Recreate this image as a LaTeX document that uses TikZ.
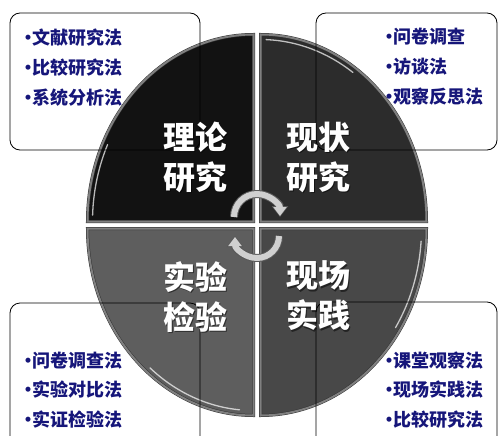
\documentclass[tikz,border=0pt]{standalone}
\usepackage{fontspec}
\setmainfont{Noto Sans CJK SC}
\usepackage{tikz}
\usetikzlibrary{arrows.meta,calc}
\definecolor{bleu}{RGB}{22,22,122}
\definecolor{qa}{RGB}{18,18,18}
\definecolor{qb}{RGB}{44,44,44}
\definecolor{qc}{RGB}{94,94,94}
\definecolor{qd}{RGB}{72,72,72}
\definecolor{bord}{RGB}{128,128,128}
\definecolor{fleche}{RGB}{208,208,208}
\newcommand\puce{\makebox[13pt][l]{•}}
\tikzset{
  cadre/.style={rounded corners=10pt,line width=0.8pt},
  methode/.style={anchor=west,inner sep=0pt,text=bleu,font=\fontsize{18}{18}\selectfont\bfseries},
  titre/.style={inner sep=0pt,align=center,text=white,font=\fontsize{32}{40}\selectfont\bfseries},
  ombre/.style={titre,text=black,opacity=0.5},
  quart/.style={draw=black!80,line width=0.5pt,double=bord,double distance=2pt},
  reflet/.style={draw=white,line width=1.3pt,opacity=0.7,line cap=round},
  tour/.style={line width=8pt,draw=black!65,-{Triangle[width=16pt,length=11pt]}},
  tourin/.style={line width=6pt,draw=fleche,shorten >=1pt,-{Triangle[width=13pt,length=9pt]}}
}
\begin{document}
\begin{tikzpicture}[x=1pt,y=-1pt]
\useasboundingbox(0,0)rectangle(498,436);
\foreach \dx/\dy/\a/\c in {-1/-1/180/qa,1/-1/270/qb,1/1/0/qd,-1/1/90/qc}
\draw[quart,fill=\c](257+3.5*\dx,225+3.5*\dy)--++({166*cos(\a)},{187*sin(\a)})
  arc[start angle=\a,delta angle=90,x radius=166,y radius=187]--cycle;
\foreach \dx/\dy/\a/\b in {-1/-1/182/205,1/-1/272/305,1/1/4/33,-1/1/95/130}
\draw[reflet]($(257+3.5*\dx,225+3.5*\dy)+({161*cos(\a)},{182*sin(\a)})$)
  arc[start angle=\a,end angle=\b,x radius=161,y radius=182];
\draw[tour](234,217)arc[start angle=180,end angle=360,radius=23];
\draw[tourin](234,217)arc[start angle=180,end angle=360,radius=23];
\draw[tour](279,236)arc[start angle=0,end angle=180,radius=22];
\draw[tourin](279,236)arc[start angle=0,end angle=180,radius=22];
\draw[cadre](10,13)rectangle(200,150);
\draw[cadre](316,13)rectangle(497,150);
\draw[cadre](10,303)rectangle(200,450);
\draw[cadre](316,302)rectangle(497,450);
\foreach \t[count=\i] in {文献研究法,比较研究法,系统分析法}
\node[methode](tl\i) at (19,{8+30*\i}) {\puce\t};
\foreach \t[count=\i] in {问卷调查,访谈法,观察反思法}
\node[methode](tr\i) at (380,{7+30*\i}) {\puce\t};
\foreach \t[count=\i] in {问卷调查法,实验对比法,实证检验法}
\node[methode](bl\i) at (19,{331+29.5*\i}) {\puce\t};
\foreach \t[count=\i] in {课堂观察法,现场实践法,比较研究法}
\node[methode](br\i) at (380,{331+29.5*\i}) {\puce\t};
\foreach \x/\y/\t/\n in {195/157/{理论\\研究}/theo,318/157/{现状\\研究}/etat,195/297/{实验\\检验}/exp,318/296/{现场\\实践}/terr}{
\node[ombre](o\n) at (\x+1.5,\y+1.5) {\t};
\node[titre](\n) at (\x,\y) {\t};}
\end{tikzpicture}
\end{document}
